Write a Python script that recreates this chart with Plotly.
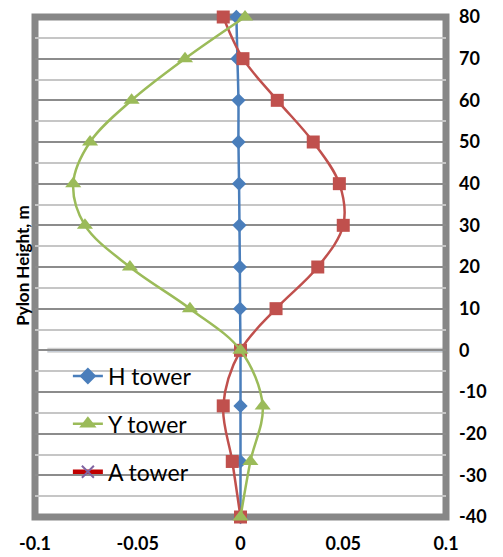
import plotly.graph_objects as go

heights = [80, 70, 60, 50, 40, 30, 20, 10, 0, -13.33, -26.67, -40]
h_tower = [-0.002, -0.0015, -0.001, -0.001, -0.0007, -0.0005, -0.0003, -0.0002, 0, 0, 0, 0]
y_tower = [0.0022, -0.027, -0.053, -0.0732, -0.0814, -0.0757, -0.0538, -0.0246, 0, 0.0108, 0.0048, 0]
a_tower = [-0.0084, 0.0012, 0.0179, 0.0354, 0.0481, 0.050, 0.0376, 0.0173, 0, -0.0084, -0.0040, 0]

x_tick_vals = [-0.1, -0.05, 0, 0.05, 0.1]
x_tick_text = ["-0.1", "-0.05", "0", "0.05", "0.1"]
y_tick_vals = [80, 70, 60, 50, 40, 30, 20, 10, 0, -10, -20, -30, -40]
y_tick_text = ["80", "70", "60", "50", "40", "30", "20", "10", "0", "-10", "-20", "-30", "-40"]
series_names = ["H tower", "Y tower", "A tower"]

BLUE = "#4a7ebb"
GREEN = "#9bbb59"
RED = "#c0504d"

fig = go.Figure()

# real data traces (drawn order H, A, Y so green sits on top)
fig.add_trace(go.Scatter(x=h_tower, y=heights, mode="lines+markers", line=dict(color=BLUE, width=2.5, shape="spline"),
                         marker=dict(symbol="diamond", size=11, color=BLUE), showlegend=False, cliponaxis=False))
fig.add_trace(go.Scatter(x=a_tower, y=heights, mode="lines+markers", line=dict(color=RED, width=2.5, shape="spline"),
                         marker=dict(symbol="square", size=13, color=RED), showlegend=False, cliponaxis=False))
fig.add_trace(go.Scatter(x=y_tower, y=heights, mode="lines+markers", line=dict(color=GREEN, width=2.5, shape="spline"),
                         marker=dict(symbol="triangle-up", size=14, color=GREEN), showlegend=False, cliponaxis=False))

# legend entries (as shown in the reference legend)
fig.add_trace(go.Scatter(x=[None], y=[None], mode="lines+markers", name=series_names[0], legendgroup="h",
                         line=dict(color=BLUE, width=2.5), marker=dict(symbol="diamond", size=13, color=BLUE)))
fig.add_trace(go.Scatter(x=[None], y=[None], mode="lines+markers", name=series_names[1], legendgroup="y",
                         line=dict(color=GREEN, width=2.5), marker=dict(symbol="triangle-up", size=15, color=GREEN)))
fig.add_trace(go.Scatter(x=[None], y=[None], mode="lines+markers", name=series_names[2], legendgroup="a",
                         line=dict(color="#c00000", width=4.5),
                         marker=dict(symbol="x-thin", size=12, color="#8064a2", line=dict(color="#8064a2", width=2))))

fig.update_layout(
    width=503, height=557,
    margin=dict(l=35, r=57, t=17, b=40, autoexpand=False),
    paper_bgcolor="white", plot_bgcolor="white",
    font=dict(family="Lato", color="black"),
    showlegend=True,
    legend=dict(x=0.08, y=0.325, xanchor="left", yanchor="top", bgcolor="rgba(0,0,0,0)",
                font=dict(size=23, family="Lato", color="black"), traceorder="grouped", tracegroupgap=15,
                itemsizing="trace"),
    xaxis=dict(range=[-0.1, 0.1], tickvals=x_tick_vals, ticktext=x_tick_text, showgrid=False, zeroline=False,
               showline=False, ticks="", ticklabelstandoff=14, automargin=False,
               tickfont=dict(size=18, family="Lato", color="black", weight="bold")),
    yaxis=dict(range=[-40, 80], tickvals=y_tick_vals, ticktext=y_tick_text, side="right", showgrid=True,
               gridcolor="#8c8c8c", gridwidth=2,
               zeroline=False, showline=False, ticks="", ticklabelstandoff=12, automargin=False,
               minor=dict(dtick=5, tick0=0, showgrid=True, gridcolor="#c6c6c6", gridwidth=2),
               tickfont=dict(size=18, family="Lato", color="black", weight="bold")),
    shapes=[
        dict(type="line", xref="paper", yref="y", x0=0.03, x1=1, y0=0, y1=0,
             line=dict(color="rgba(0,0,0,0.18)", width=5), layer="between"),
        dict(type="line", xref="paper", yref="y", x0=0.03, x1=1, y0=0, y1=0,
             line=dict(color="#a9c1e6", width=2), layer="between"),
        dict(type="rect", xref="paper", yref="paper", x0=0, x1=1, y0=0, y1=1,
             line=dict(color="#878787", width=7), layer="between"),
    ],
    annotations=[
        dict(text="Pylon Height, m", xref="paper", yref="paper", x=-0.032, y=0.504, textangle=-90, showarrow=False,
             xanchor="center", yanchor="middle", font=dict(size=17, family="Lato", color="black", weight="bold")),
    ],
)

fig.write_html("out.html", config={"displayModeBar": False},
               post_script="document.body.style.margin='0';document.body.style.padding='0';")
